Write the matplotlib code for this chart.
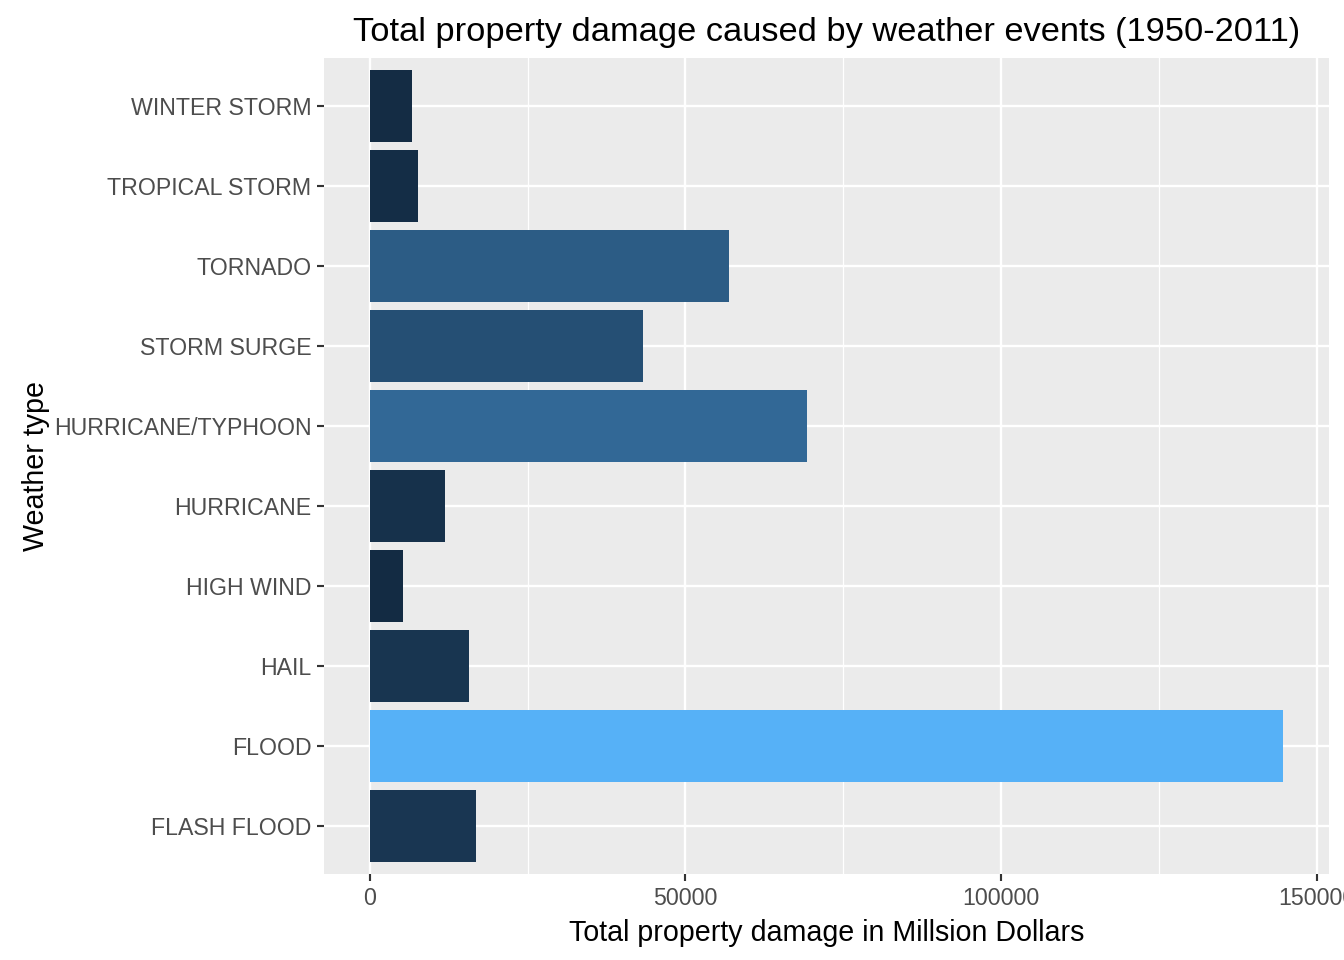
import matplotlib
matplotlib.use('Agg')

import matplotlib.pyplot as plt
import numpy as np
from matplotlib.colors import LinearSegmentedColormap, Normalize

plt.rcParams['font.family'] = ['Liberation Sans', 'DejaVu Sans']

# total property damage (million dollars) per event type, bottom to top
events = ['FLASH FLOOD', 'FLOOD', 'HAIL', 'HIGH WIND', 'HURRICANE',
          'HURRICANE/TYPHOON', 'STORM SURGE', 'TORNADO', 'TROPICAL STORM',
          'WINTER STORM']
damage = [16823, 144658, 15735, 5270, 11868, 69306, 43324, 56937, 7704, 6688]

x_ticks = [0, 50000, 100000, 150000]
x_minor = [25000, 75000, 125000]

W, H, DPI = 1344, 960, 96
fig = plt.figure(figsize=(W / DPI, H / DPI), dpi=DPI)
ax = fig.add_axes([324 / W, (H - 874) / H, (1329 - 324) / W, (874 - 58) / H])

# ggplot default continuous fill scale
cmap = LinearSegmentedColormap.from_list('gg', ['#132B43', '#56B1F7'])
norm = Normalize(vmin=min(damage), vmax=max(damage))

ypos = np.arange(1, len(events) + 1)
ax.set_facecolor('#EBEBEB')
ax.barh(ypos, damage, height=0.9, color=cmap(norm(np.array(damage))), zorder=3)

ax.set_xlim(-max(damage) * 0.05, max(damage) * 1.05)
ax.set_ylim(0.4, len(events) + 0.6)

# grid lines
for v in x_minor:
    ax.axvline(v, color='white', lw=0.9, zorder=1)
for v in x_ticks:
    ax.axvline(v, color='white', lw=1.8, zorder=2)
for y in ypos:
    ax.axhline(y, color='white', lw=1.8, zorder=2)

ax.set_xticks(x_ticks)
ax.set_xticklabels([str(v) for v in x_ticks])
ax.set_yticks(ypos)
ax.set_yticklabels(events)
ax.tick_params(axis='both', length=5.5, width=1.6, color='#333333',
               labelcolor='#4D4D4D', labelsize=17.3, pad=4)

for s in ax.spines.values():
    s.set_visible(False)

ax.set_xlabel('Total property damage in Millsion Dollars', fontsize=21.5,
              color='black', labelpad=7)
ax.set_ylabel('Weather type', fontsize=21.5, color='black', labelpad=3)
ax.set_title('Total property damage caused by weather events (1950-2011)',
             fontsize=25.8, color='black', pad=13)

fig.savefig('out.png', dpi=DPI)
